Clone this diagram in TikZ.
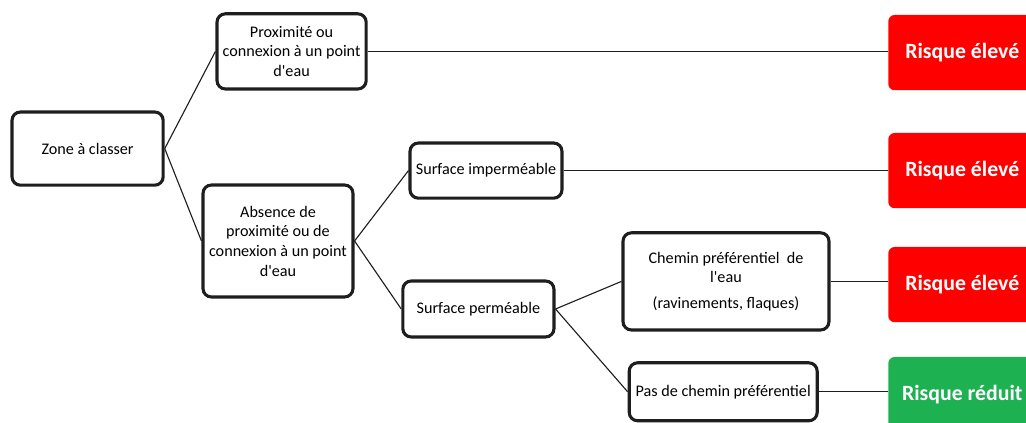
\documentclass[tikz,border=0pt]{standalone}
\usepackage{fontspec}
\setmainfont{Carlito}
\usepackage{xcolor}
\usetikzlibrary{positioning}
\definecolor{riskRed}{HTML}{FF0000}
\definecolor{riskGreen}{HTML}{1DB152}
\definecolor{ink}{HTML}{1E1E1E}

\begin{document}
\begin{tikzpicture}[font=\fontsize{11.5}{14}\selectfont,
  crit/.style={draw=ink,line width=2.2pt,rounded corners=6pt,fill=white,align=center,inner sep=2pt},
  risk/.style={anchor=west,rounded corners=4.5pt,minimum width=3.7cm,minimum height=1.88cm,text=white,
    font=\fontsize{15.5}{17}\selectfont\bfseries},
  link/.style={draw=ink,line width=0.8pt}]
\useasboundingbox (0,0) rectangle (25.65,10.575);
\clip (0,0) rectangle (25.65,10.575);
% criteria boxes
\node[crit,minimum width=3.78cm,minimum height=1.83cm] (zone) at (2.19,6.86) {Zone à classer};
\node[crit,minimum width=3.73cm,minimum height=1.88cm] (prox) at (7.29,9.29) {Proximité ou\\connexion à un point\\d\textquotesingle eau};
\node[crit,minimum width=3.75cm,minimum height=2.8cm] (abs) at (6.95,4.55) {Absence de\\proximité ou de\\connexion à un point\\d\textquotesingle eau};
\node[crit,minimum width=3.8cm,minimum height=1.38cm] (simp) at (12.15,6.31) {Surface imperméable};
\node[crit,minimum width=3.78cm,minimum height=1.4cm] (sperm) at (11.96,2.85) {Surface perméable};
\node[crit,minimum width=5.15cm,minimum height=2.43cm] (chem) at (18.15,3.54) {Chemin préférentiel\ \ de\\l\textquotesingle eau\\[4pt](ravinements, flaques)};
\node[crit,minimum width=4.7cm,minimum height=1.45cm] (pas) at (18.08,0.78) {Pas de chemin préférentiel};
% risk levels
\node[risk,fill=riskRed] (r1) at (22.2,9.26) {Risque élevé};
\node[risk,fill=riskRed] (r2) at (22.2,6.31) {Risque élevé};
\node[risk,fill=riskRed] (r3) at (22.2,3.46) {Risque élevé};
\node[risk,fill=riskGreen] (r4) at (22.2,0.71) {Risque réduit};
% tree links
\draw[link] (zone.east) -- (prox.west);
\draw[link] (zone.east) -- (abs.west);
\draw[link] (abs.east) -- (simp.west);
\draw[link] (abs.east) -- (sperm.west);
\draw[link] (sperm.east) -- (chem.west);
\draw[link] (sperm.east) -- (pas.west);
\draw[link] (prox.east) -- (prox.east -| r1.west);
\draw[link] (simp.east) -- (simp.east -| r2.west);
\draw[link] (chem.east) -- (chem.east -| r3.west);
\draw[link] (pas.east) -- (pas.east -| r4.west);
\end{tikzpicture}
\end{document}
